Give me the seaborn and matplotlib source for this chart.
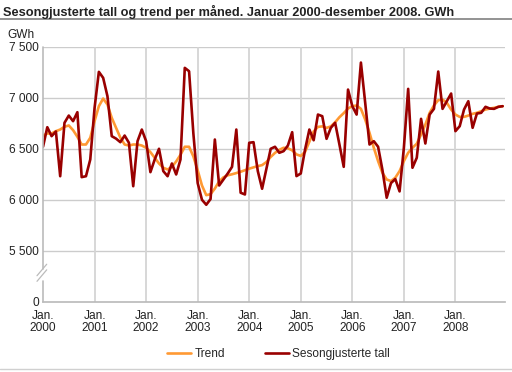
import matplotlib
matplotlib.use("Agg")
import matplotlib.pyplot as plt
import seaborn as sns
import pandas as pd
import numpy as np

TITLE = "Sesongjusterte tall og trend per måned. Januar 2000-desember 2008. GWh"
YEARS = ["2000", "2001", "2002", "2003", "2004", "2005", "2006", "2007", "2008"]

# monthly values, Jan 2000 - Dec 2008 (GWh)
sesongjustert = [
    6520, 6712, 6624, 6670, 6231, 6755, 6826, 6771, 6859, 6222, 6231, 6395,
    6900, 7255, 7196, 7016, 6624, 6600, 6565, 6630, 6559, 6133, 6575, 6689,
    6575, 6271, 6395, 6500, 6281, 6231, 6356, 6248, 6395, 7294, 7261, 6650,
    6164, 6000, 5951, 6007, 6591, 6140, 6199, 6258, 6323, 6689, 6069, 6052,
    6559, 6565, 6281, 6108, 6304, 6500, 6520, 6461, 6477, 6532, 6663, 6232,
    6258, 6493, 6689, 6584, 6836, 6820, 6598, 6706, 6755, 6542, 6323, 7081,
    6918, 6836, 7346, 6950, 6542, 6575, 6520, 6295, 6020, 6164, 6203, 6082,
    6510, 7088, 6314, 6412, 6794, 6552, 6836, 6892, 7258, 6892, 6967, 7042,
    6673, 6722, 6885, 6967, 6706, 6846, 6853, 6912, 6895, 6892, 6912, 6918,
]
trend = [
    6630, 6650, 6650, 6673, 6689, 6716, 6729, 6683, 6618, 6542, 6542, 6608,
    6771, 6918, 6993, 6934, 6804, 6706, 6610, 6542, 6532, 6542, 6542, 6532,
    6510, 6467, 6412, 6356, 6314, 6297, 6323, 6376, 6441, 6520, 6520, 6425,
    6290, 6140, 6045, 6055, 6110, 6180, 6220, 6240, 6250, 6262, 6275, 6290,
    6305, 6318, 6330, 6340, 6370, 6420, 6460, 6490, 6510, 6505, 6485, 6445,
    6430, 6470, 6570, 6670, 6715, 6720, 6705, 6720, 6760, 6810, 6850, 6895,
    6918, 6925, 6892, 6787, 6657, 6510, 6379, 6265, 6199, 6183, 6216, 6281,
    6379, 6461, 6510, 6550, 6640, 6738, 6853, 6925, 6977, 6983, 6951, 6885,
    6836, 6813, 6813, 6826, 6843, 6853, 6869, 6885, 6895, 6902, 6912, 6918,
]

y_ticks = [5000, 5500, 6000, 6500, 7000, 7500]
y_labels = ["0", "5 500", "6 000", "6 500", "7 000", "7 500"]

sns.set_theme(style="white")
plt.rcParams["font.family"] = ["Liberation Sans", "DejaVu Sans"]

months = np.arange(len(trend))
df = pd.concat([
    pd.DataFrame({"month": months, "GWh": trend, "serie": "Trend"}),
    pd.DataFrame({"month": months, "GWh": sesongjustert, "serie": "Sesongjusterte tall"}),
])

fig = plt.figure(figsize=(5.12, 3.72), dpi=100)
ax = fig.add_axes([0.084, 0.189, 0.902, 0.685])

sns.lineplot(
    data=df, x="month", y="GWh", hue="serie",
    hue_order=["Trend", "Sesongjusterte tall"],
    palette=["#ff9933", "#990000"], linewidth=1.9, ax=ax, legend=True
)

ax.set_xlim(0, 107.5)
ax.set_ylim(5000, 7500)
ax.set_yticks(y_ticks)
ax.set_yticklabels(y_labels)
ax.set_xticks(np.arange(0, 108, 12))
ax.set_xticklabels([f"Jan.\n{y}" for y in YEARS])
ax.set_xticks(months, minor=True)
ax.set_xlabel("")
ax.set_ylabel("")

for v in y_ticks[1:]:
    ax.axhline(v, color="#cccccc", lw=1, zorder=0)
for x in np.arange(12, 108, 12):
    ax.axvline(x, color="#d4d4d4", lw=1.3, zorder=0)

ax.tick_params(axis="both", which="major", labelsize=8.6, colors="#222222", length=0, pad=3)
ax.tick_params(axis="x", which="minor", direction="in", length=5, color="#c8c8c8", width=0.8)
ax.tick_params(axis="x", which="major", pad=6)
for lab in ax.get_xticklabels():
    lab.set_linespacing(1.05)

for s in ["top", "right"]:
    ax.spines[s].set_visible(False)
ax.spines["bottom"].set_color("#bbbbbb")
ax.spines["left"].set_visible(False)

# left axis with break between 0 and 5 500
ax.plot([0, 0], [1, 0.13], transform=ax.transAxes, color="#bbbbbb", lw=1.2, clip_on=False)
ax.plot([0, 0], [0.08, 0], transform=ax.transAxes, color="#bbbbbb", lw=1.2, clip_on=False)
for dy in (0.0, 0.022):
    ax.plot([-0.013, 0.008], [0.08 + dy, 0.125 + dy], transform=ax.transAxes,
            color="#bbbbbb", lw=0.9, clip_on=False)

handles, labels = ax.get_legend_handles_labels()
ax.get_legend().remove()
fig.legend(handles, labels, loc="center", bbox_to_anchor=(0.544, 0.048), ncol=2,
           frameon=False, fontsize=8.6, handlelength=2.0, columnspacing=3.3,
           handletextpad=0.3)

fig.text(0.006, 0.968, TITLE, fontsize=9.2, fontweight="bold", color="#222222", va="center")
fig.add_artist(plt.Line2D([0, 1], [0.948, 0.948], color="#8a8a8a", lw=1.3))
fig.add_artist(plt.Line2D([0, 1], [0.008, 0.008], color="#d0d0d0", lw=1))
fig.text(0.014, 0.907, "GWh", fontsize=8.6, color="#222222", va="center")

fig.savefig("out.png", dpi=100)
plt.close(fig)
